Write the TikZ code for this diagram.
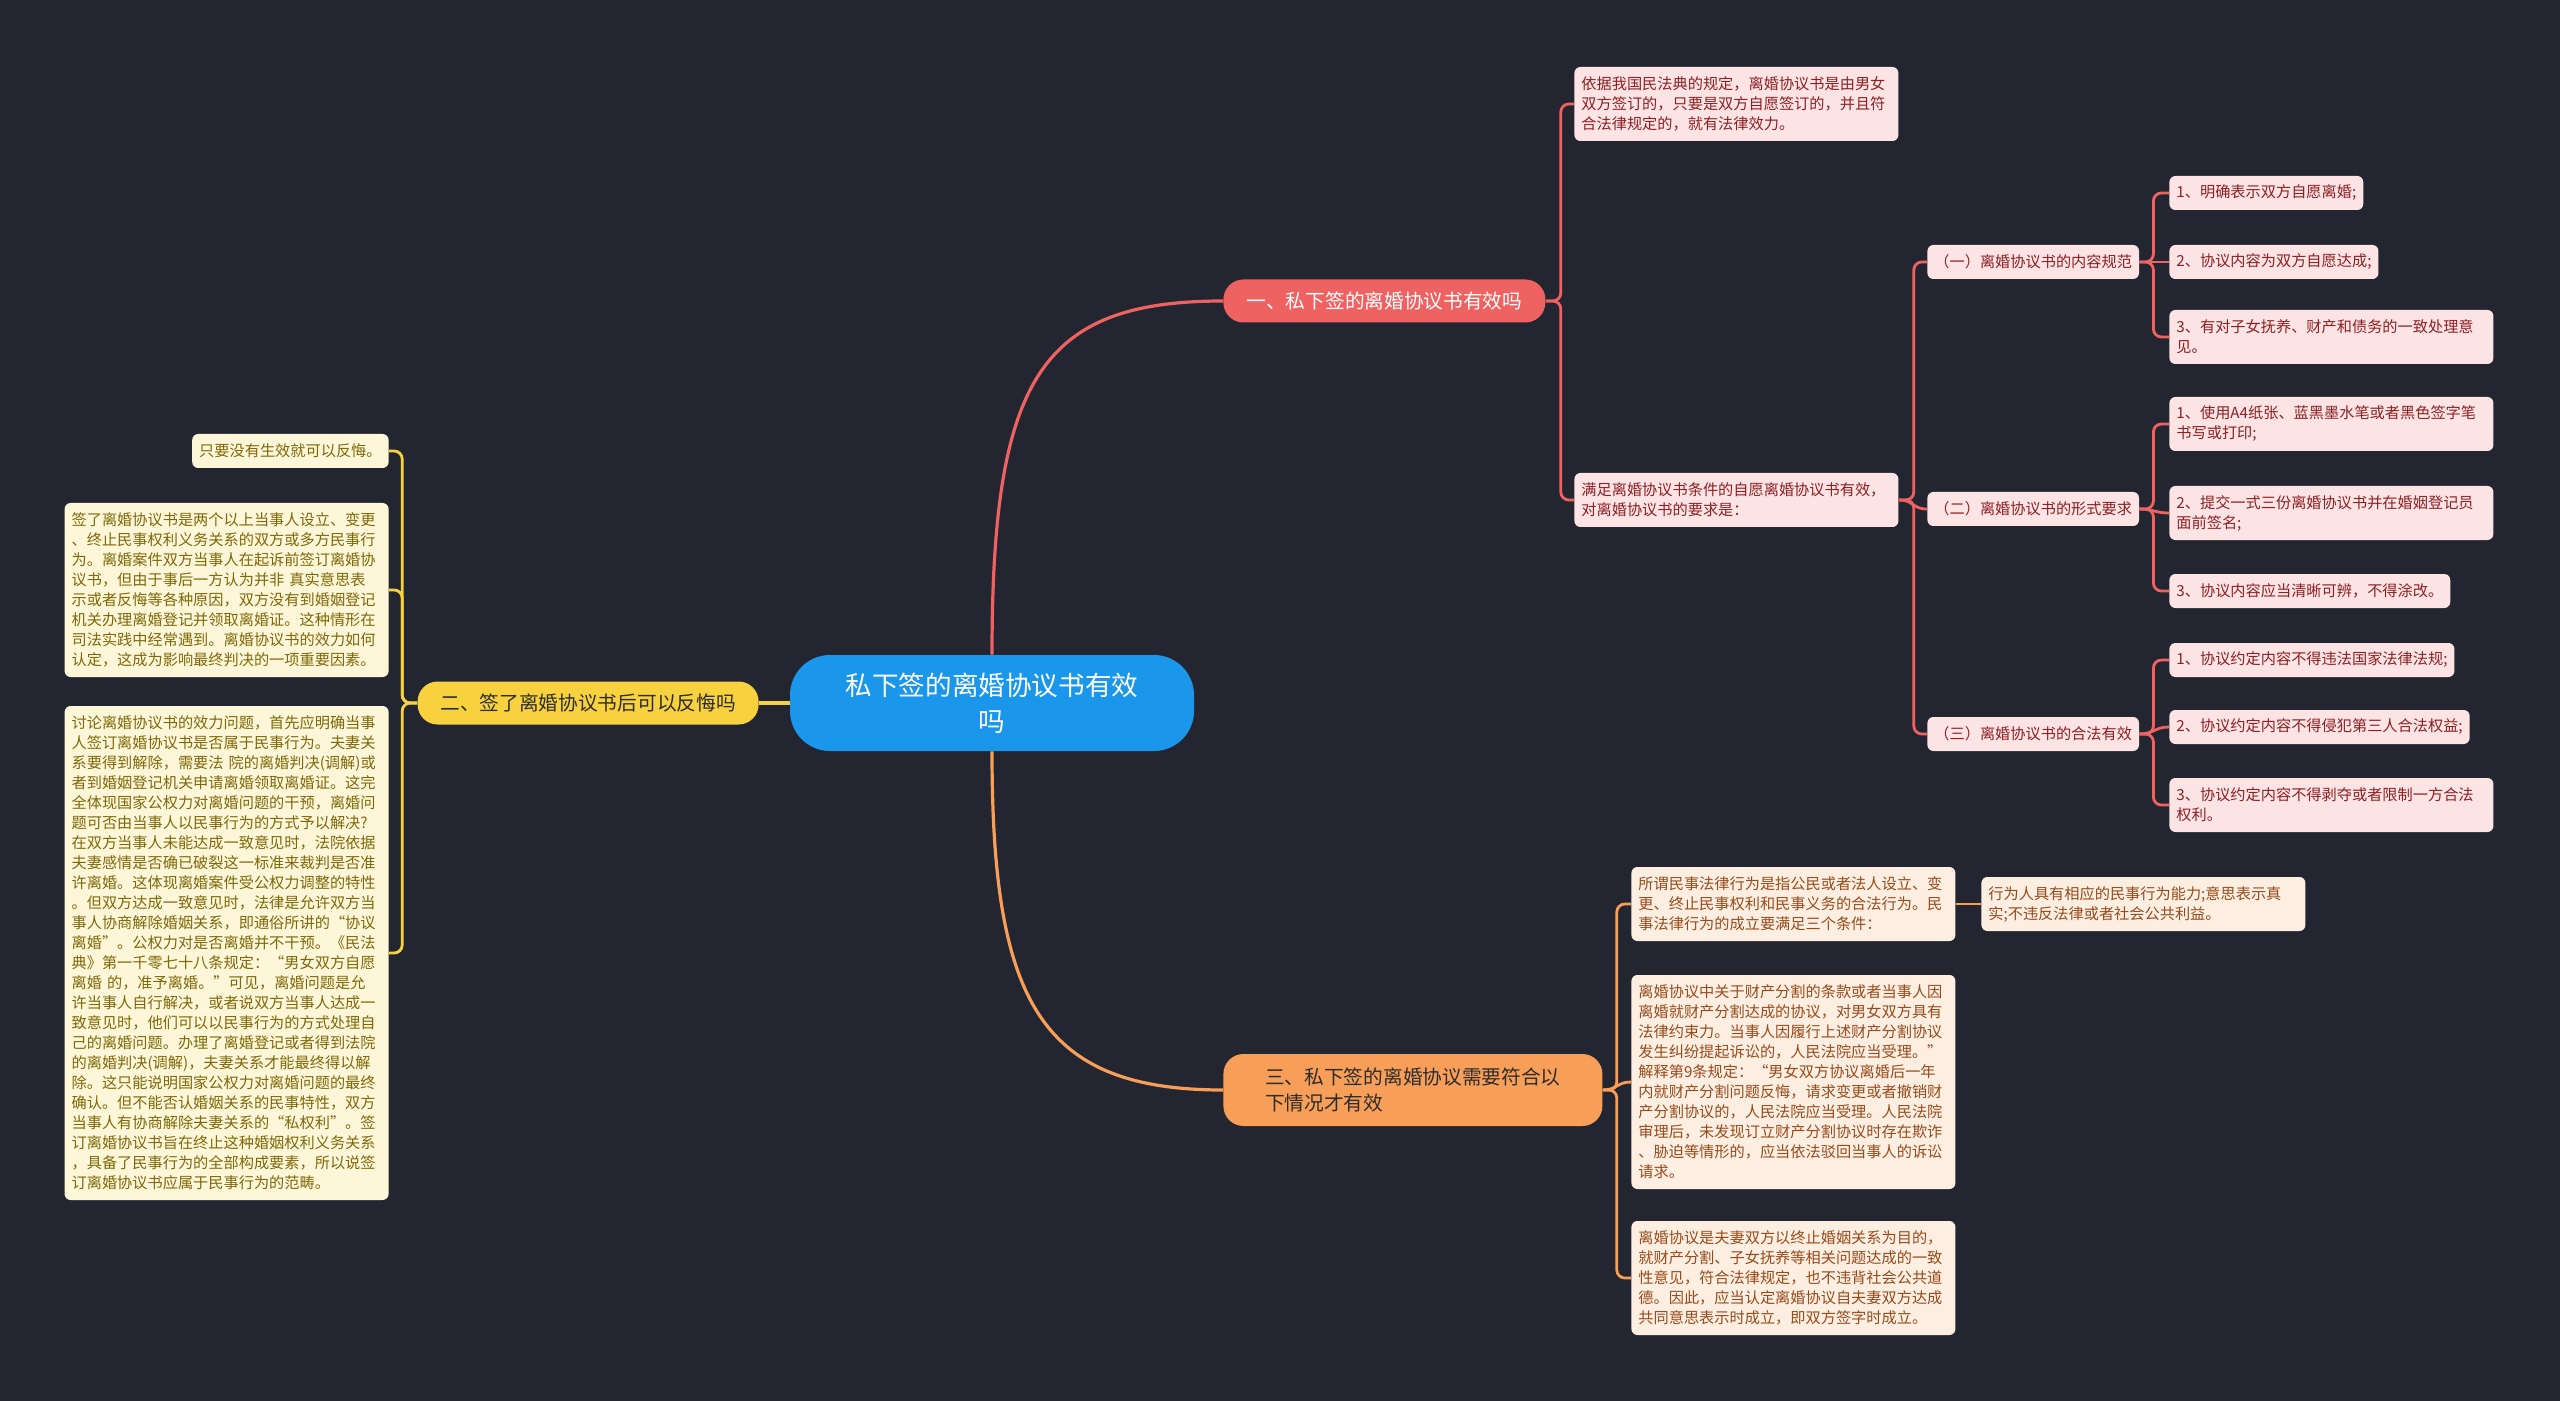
\documentclass[tikz,border=0pt]{standalone}
\usepackage{fontspec}
\setmainfont{Noto Sans CJK SC}
\definecolor{mmbg}{RGB}{35,38,48}
\definecolor{mmblue}{RGB}{26,150,234}
\definecolor{mmred}{RGB}{238,98,98}
\definecolor{mmyellow}{RGB}{247,210,62}
\definecolor{mmorange}{RGB}{247,158,88}
\definecolor{mmpink}{RGB}{253,228,228}
\definecolor{mmcream}{RGB}{254,246,216}
\definecolor{mmpeach}{RGB}{253,238,226}
\definecolor{mmredtxt}{RGB}{140,32,36}
\definecolor{mmgoldtxt}{RGB}{125,105,10}
\definecolor{mmbrowntxt}{RGB}{150,76,28}
\definecolor{mmdark}{RGB}{45,45,45}

\begin{document}
\begin{tikzpicture}[x=.5pt,y=-.5pt,
    card/.style={rounded corners=3pt,inner xsep=3.5pt,inner ysep=2pt,align=left,font=\fontsize{7.6pt}{10pt}\selectfont,minimum height=7pt+10pt*#1},
    fullw/.style={text width=155pt},
    redcard/.style={card=#1,fill=mmpink,text=mmredtxt,anchor=west},
    goldcard/.style={card=#1,fill=mmcream,text=mmgoldtxt,anchor=east},
    orangecard/.style={card=#1,fill=mmpeach,text=mmbrowntxt,anchor=west},
    topic/.style={rounded corners=10pt,inner xsep=8pt,font=\fontsize{9.85pt}{13pt}\selectfont,minimum height=21.5pt},
    trunk/.style={line width=1.6pt},
    link/.style={line width=1.4pt,rounded corners=4pt}]
    \fill[mmbg] (0,0) rectangle (2560,1401);
    \node[fill=mmblue,text=white,rounded corners=20pt,minimum width=202pt,minimum height=48pt,align=center,font=\fontsize{13.3pt}{18pt}\selectfont] (root) at (992,703) {私下签的离婚协议书有效\\吗};
    \node[topic,fill=mmred,text=white,minimum width=161pt,anchor=west] (t1) at (1223,301) {一、私下签的离婚协议书有效吗};
    \node[topic,fill=mmyellow,text=mmdark,minimum width=170.5pt,anchor=east] (t2) at (759,703) {二、签了离婚协议书后可以反悔吗};
    \node[topic,fill=mmorange,text=mmdark,minimum width=189.5pt,minimum height=36pt,align=left,anchor=west] (t3) at (1223,1090) {三、私下签的离婚协议需要符合以\\下情况才有效};
    \node[redcard=3,fullw] (t1a) at (1574,104) {依据我国民法典的规定，离婚协议书是由男女\\双方签订的，只要是双方自愿签订的，并且符\\合法律规定的，就有法律效力。};
    \node[redcard=2,fullw] (t1b) at (1574,500) {满足离婚协议书条件的自愿离婚协议书有效，\\对离婚协议书的要求是：};
    \node[redcard=1] (sec1) at (1927,262) {（一）离婚协议书的内容规范};
    \node[redcard=1] (sec2) at (1927,509) {（二）离婚协议书的形式要求};
    \node[redcard=1] (sec3) at (1927,734) {（三）离婚协议书的合法有效};
    \node[redcard=1] (l11) at (2169,193) {1、明确表示双方自愿离婚;};
    \node[redcard=1] (l12) at (2169,262) {2、协议内容为双方自愿达成;};
    \node[redcard=2,fullw] (l13) at (2169,337) {3、有对子女抚养、财产和债务的一致处理意\\见。};
    \node[redcard=2,fullw] (l21) at (2169,424) {1、使用A4纸张、蓝黑墨水笔或者黑色签字笔\\书写或打印;};
    \node[redcard=2,fullw] (l22) at (2169,513) {2、提交一式三份离婚协议书并在婚姻登记员\\面前签名;};
    \node[redcard=1] (l23) at (2169,591) {3、协议内容应当清晰可辨，不得涂改。};
    \node[redcard=1] (l31) at (2169,660) {1、协议约定内容不得违法国家法律法规;};
    \node[redcard=1] (l32) at (2169,727) {2、协议约定内容不得侵犯第三人合法权益;};
    \node[redcard=2,fullw] (l33) at (2169,805) {3、协议约定内容不得剥夺或者限制一方合法\\权利。};
    \node[orangecard=3,fullw] (t3a) at (1631,904) {所谓民事法律行为是指公民或者法人设立、变\\更、终止民事权利和民事义务的合法行为。民\\事法律行为的成立要满足三个条件：};
    \node[orangecard=2,fullw] (t3ax) at (1981,904) {行为人具有相应的民事行为能力;意思表示真\\实;不违反法律或者社会公共利益。};
    \node[orangecard=10,fullw] (t3b) at (1631,1082) {离婚协议中关于财产分割的条款或者当事人因\\离婚就财产分割达成的协议，对男女双方具有\\法律约束力。当事人因履行上述财产分割协议\\发生纠纷提起诉讼的，人民法院应当受理。”\\解释第9条规定：“男女双方协议离婚后一年\\内就财产分割问题反悔，请求变更或者撤销财\\产分割协议的，人民法院应当受理。人民法院\\审理后，未发现订立财产分割协议时存在欺诈\\、胁迫等情形的，应当依法驳回当事人的诉讼\\请求。};
    \node[orangecard=5,fullw] (t3c) at (1631,1278) {离婚协议是夫妻双方以终止婚姻关系为目的，\\就财产分割、子女抚养等相关问题达成的一致\\性意见，符合法律规定，也不违背社会公共道\\德。因此，应当认定离婚协议自夫妻双方达成\\共同意思表示时成立，即双方签字时成立。};
    \node[goldcard=1] (t2a) at (389,451) {只要没有生效就可以反悔。};
    \node[goldcard=8,fullw] (t2b) at (389,590) {签了离婚协议书是两个以上当事人设立、变更\\、终止民事权利义务关系的双方或多方民事行\\为。离婚案件双方当事人在起诉前签订离婚协\\议书，但由于事后一方认为并非 真实意思表\\示或者反悔等各种原因，双方没有到婚姻登记\\机关办理离婚登记并领取离婚证。这种情形在\\司法实践中经常遇到。离婚协议书的效力如何\\认定，这成为影响最终判决的一项重要因素。};
    \node[goldcard=24,fullw] (t2c) at (389,953) {讨论离婚协议书的效力问题，首先应明确当事\\人签订离婚协议书是否属于民事行为。夫妻关\\系要得到解除，需要法 院的离婚判决(调解)或\\者到婚姻登记机关申请离婚领取离婚证。这完\\全体现国家公权力对离婚问题的干预，离婚问\\题可否由当事人以民事行为的方式予以解决?\\在双方当事人未能达成一致意见时，法院依据\\夫妻感情是否确已破裂这一标准来裁判是否准\\许离婚。这体现离婚案件受公权力调整的特性\\。但双方达成一致意见时，法律是允许双方当\\事人协商解除婚姻关系，即通俗所讲的“协议\\离婚”。公权力对是否离婚并不干预。《民法\\典》第一千零七十八条规定：“男女双方自愿\\离婚 的，准予离婚。”可见，离婚问题是允\\许当事人自行解决，或者说双方当事人达成一\\致意见时，他们可以以民事行为的方式处理自\\己的离婚问题。办理了离婚登记或者得到法院\\的离婚判决(调解)，夫妻关系才能最终得以解\\除。这只能说明国家公权力对离婚问题的最终\\确认。但不能否认婚姻关系的民事特性，双方\\当事人有协商解除夫妻关系的“私权利”。签\\订离婚协议书旨在终止这种婚姻权利义务关系\\，具备了民事行为的全部构成要素，所以说签\\订离婚协议书应属于民事行为的范畴。};
    \draw[trunk,mmred] (root.north) .. controls +(0,-275) and +(-183,0) .. (t1.west);
    \draw[trunk,mmorange] (root.south) .. controls +(0,250) and +(-183,0) .. (t3.west);
    \draw[trunk,mmyellow] (root.west) -- (t2.east);
    \foreach \c in {t1a,t1b} \draw[link,mmred] (t1.east) -- ++(15,0) |- (\c.west);
    \foreach \c in {sec1,sec3} \draw[link,mmred] (t1b.east) -- ++(15,0) |- (\c.west);
    \draw[link,mmred] (t1b.east) .. controls +(15,0) and +(-15,0) .. (sec2.west);
    \foreach \s in {1,2,3}{
        \draw[link,mmred] (sec\s.east) -- ++(14,0) |- (l\s1.west);
        \draw[link,mmred] (sec\s.east) -- ++(14,0) |- (l\s3.west);
        \draw[link,mmred] (sec\s.east) .. controls +(14,0) and +(-14,0) .. (l\s2.west);
    }
    \foreach \c in {t3a,t3c} \draw[link,mmorange] (t3.east) -- ++(14,0) |- (\c.west);
    \draw[link,mmorange] (t3.east) .. controls +(14,0) and +(-14,0) .. (t3b.west);
    \draw[link,mmorange] (t3a.east) -- (t3ax.west);
    \foreach \c in {t2a,t2b,t2c} \draw[link,mmyellow] (t2.west) -- ++(-15,0) |- (\c.east);
\end{tikzpicture}
\end{document}
